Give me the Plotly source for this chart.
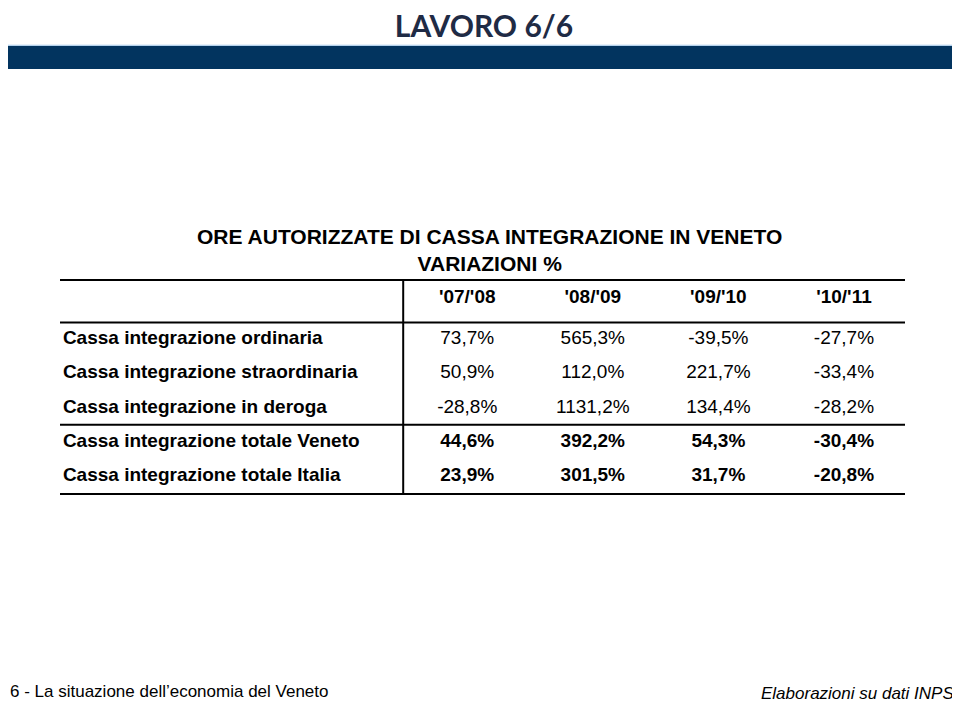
import plotly.graph_objects as go

# dati della tabella
periodi = ["'07/'08", "'08/'09", "'09/'10", "'10/'11"]
voci = [
    "Cassa integrazione ordinaria",
    "Cassa integrazione straordinaria",
    "Cassa integrazione in deroga",
    "Cassa integrazione totale Veneto",
    "Cassa integrazione totale Italia",
]
var_0708 = ["73,7%", "50,9%", "-28,8%", "44,6%", "23,9%"]
var_0809 = ["565,3%", "112,0%", "1131,2%", "392,2%", "301,5%"]
var_0910 = ["-39,5%", "221,7%", "134,4%", "54,3%", "31,7%"]
var_1011 = ["-27,7%", "-33,4%", "-28,2%", "-30,4%", "-20,8%"]
colonne = [var_0708, var_0809, var_0910, var_1011]
totali = ["Cassa integrazione totale Veneto", "Cassa integrazione totale Italia"]

FONT = "Liberation Sans, Arial, sans-serif"
righe = list(range(len(voci)))
y_header = -1.2

fig = go.Figure()

# intestazioni colonne
fig.add_trace(go.Scatter(
    x=[i + 1 for i in range(len(periodi))], y=[y_header] * len(periodi),
    mode="text", text=["<b>%s</b>" % p for p in periodi],
    textfont=dict(family=FONT, size=19, color="black"),
    hoverinfo="skip", showlegend=False))

# etichette righe
fig.add_trace(go.Scatter(
    x=[-2.22] * len(voci), y=righe, mode="text",
    text=["<b>%s</b>" % v for v in voci], textposition="middle right",
    textfont=dict(family=FONT, size=19, color="black"),
    hoverinfo="skip", showlegend=False))

# valori (totali in grassetto)
for i, col in enumerate(colonne):
    testi = []
    for v, voce in zip(col, voci):
        testi.append("<b>%s</b>" % v if voce in totali else v)
    fig.add_trace(go.Scatter(
        x=[i + 1] * len(voci), y=righe, mode="text", text=testi,
        textfont=dict(family=FONT, size=19, color="black"),
        hoverinfo="skip", showlegend=False))

# linee della tabella
fig.add_shape(type="line", xref="paper", yref="y", x0=0, x1=1, y0=-0.5, y1=-0.5,
              line=dict(color="black", width=2))
fig.add_shape(type="line", xref="paper", yref="y", x0=0, x1=1, y0=2.5, y1=2.5,
              line=dict(color="black", width=2))
fig.add_shape(type="line", xref="x", yref="paper", x0=0.49, x1=0.49, y0=0, y1=1,
              line=dict(color="black", width=2))

# barra blu sotto il titolo
fig.add_shape(type="rect", xref="paper", yref="paper",
              x0=-0.0675, x1=1.0615, y0=2.0, y1=2.108,
              fillcolor="#02345f", line=dict(width=0))
fig.add_shape(type="line", xref="paper", yref="paper",
              x0=-0.0675, x1=1.0615, y0=2.112, y1=2.112,
              line=dict(color="#9dc3e6", width=1))

# la pagina ha un margine di 8px: figura 952x694
fig.update_layout(
    width=952, height=694,
    margin=dict(l=52, r=55, t=273, b=209),
    paper_bgcolor="white", plot_bgcolor="white",
    title=dict(text="<b>LAVORO 6/6</b>", x=0.5, xanchor="center",
               y=0.973, yref="container", yanchor="middle",
               font=dict(family="Lato, Open Sans, sans-serif", size=30, color="#1f2b45")),
    xaxis=dict(range=[-2.243, 4.486], showgrid=False, zeroline=False,
               showticklabels=False, showline=True, mirror=True,
               linecolor="black", linewidth=2, fixedrange=True),
    yaxis=dict(range=[4.5, -1.72], showgrid=False, zeroline=False,
               showticklabels=False, showline=False, fixedrange=True),
    annotations=[
        dict(text="<b>ORE AUTORIZZATE DI CASSA INTEGRAZIONE IN VENETO<br>VARIAZIONI %</b>",
             xref="paper", yref="paper", x=0.508, y=1.144, showarrow=False,
             xanchor="center", yanchor="middle", align="center",
             font=dict(family=FONT, size=21, color="black")),
        dict(text="6 - La situazione dell’economia del Veneto",
             xref="paper", yref="paper", x=-0.062, y=-0.934, showarrow=False,
             xanchor="left", yanchor="middle",
             font=dict(family=FONT, size=17, color="black")),
        dict(text="<i>Elaborazioni su dati INPS</i>",
             xref="paper", yref="paper", x=1.06, y=-0.944, showarrow=False,
             xanchor="right", yanchor="middle",
             font=dict(family=FONT, size=17, color="black")),
    ],
)

fig.write_html("out.html")
